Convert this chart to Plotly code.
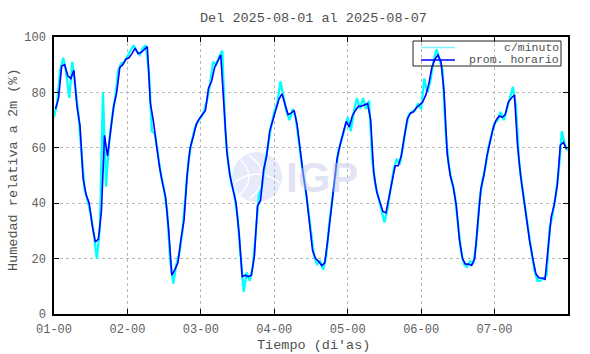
import plotly.graph_objects as go

# ---------------- data ----------------
day_labels = ["01-00", "02-00", "03-00", "04-00", "05-00", "06-00", "07-00"]
day_ticks = [0, 1, 2, 3, 4, 5, 6]

# hourly mean relative humidity (%) - one value per hour, 7 days
prom_horario = [
    # day 1
    74, 78, 89.5, 90, 86, 85, 88, 75, 68, 49, 43, 40, 32, 26, 27, 37, 64.5, 57, 66, 75, 80, 89, 90, 92,
    # day 2
    92.5, 94, 96, 94, 94.5, 95.5, 96.5, 76, 69.5, 61, 53, 47, 42, 30, 14, 16, 18.5, 27, 34, 50, 60, 64, 68.5, 70.5,
    # day 3
    72, 73.5, 81.5, 84, 89, 91.5, 93.5, 76, 58.5, 50, 45, 40, 29, 13.5, 14, 13.5, 14, 21, 39, 41, 52, 57, 66, 70,
    # day 4
    74, 77.5, 79.5, 75.5, 72, 72.5, 73.5, 68, 58, 50, 43, 34, 23, 20, 19, 17.5, 18.5, 27, 37, 46, 56, 61, 65, 69.5,
    # day 5
    67.5, 71.5, 73.5, 75, 75, 75.5, 76, 70, 51, 44, 40, 37, 36.5, 42, 48, 53.5, 53.5, 57, 64, 70.5, 72.5, 73, 74.5, 75.5,
    # day 6
    76.5, 79, 83, 89, 92, 93.5, 91, 80, 58, 50, 46, 39, 27, 20, 18, 18, 17.5, 20, 32, 45, 50, 57, 62, 67,
    # day 7
    70, 71.5, 71, 72, 76.5, 78, 79, 61, 50, 42, 34, 26, 20, 14.5, 13, 13, 12.5, 25, 35, 39.5, 46.5, 61, 62, 59.5,
]

# per-minute readings, sampled at each hour boundary (visible excursions included)
c_minuto = [
    71, 76, 88, 92.5, 87, 78, 91, 82, 72, 58, 45, 41, 36, 29, 20, 31, 80, 46, 62, 71, 78, 88, 90.5, 91,
    93, 94.5, 97, 95, 93.5, 96, 97, 88, 66, 65, 57, 50, 45, 37, 19, 11, 18, 22, 30, 42, 56, 62, 67, 69.5,
    71, 73, 77, 83, 91, 90, 93, 95, 66, 54, 47, 43, 35, 21, 8, 15, 12, 17, 31, 43, 46, 55, 61, 68,
    73, 76, 84, 78, 73, 70, 74, 71, 62, 54, 47, 38, 28, 21, 18, 19, 16, 21, 33, 42, 51, 59, 63, 67,
    71, 66, 73, 78, 74, 78, 74, 77, 56, 47, 42, 38, 33, 38, 45, 52, 56, 54, 60, 67, 72, 73, 73.5, 76,
    74, 85, 80, 84, 91, 95.5, 92, 88, 66, 54, 48, 43, 33, 23, 18, 17, 19, 18, 25, 40, 48, 53, 60, 64,
    69, 70, 73, 70, 74, 79, 82, 75, 55, 46, 38, 30, 23, 16, 12, 12, 13, 14, 31, 36, 43, 52, 66, 61,
    59,
]

x_horario = [(h + 0.5) / 24 for h in range(len(prom_horario))]
x_minuto = [h / 24 for h in range(len(c_minuto))]

FONT = "Liberation Mono, Courier New, monospace"
TXT = "#505050"
TICK = "#5e5e5e"

fig = go.Figure()
fig.add_trace(go.Scatter(x=x_minuto, y=c_minuto, mode="lines",
                         line=dict(color="#00ffff", width=2.3),
                         name="c/minuto", showlegend=False, hoverinfo="skip"))
fig.add_trace(go.Scatter(x=x_horario, y=prom_horario, mode="lines",
                         line=dict(color="#0000ff", width=1.6),
                         name="prom. horario", showlegend=False))

# plot-area pixel helpers (plot area: x 54..568, y 37..314)
L, R, T, B = 54, 568, 37, 314
W, H = 590, 354
def px(x):
    return (x - L) / (R - L)
def py(y):
    return (B - y) / (B - T)

shapes = []
# watermark circle (IGP logo)
cx, cy, r = 257, 177, 25
shapes.append(dict(type="circle", xref="paper", yref="paper", layer="below",
                   x0=px(cx - r), x1=px(cx + r), y0=py(cy + r), y1=py(cy - r),
                   fillcolor="#e6eafa", line=dict(width=0)))
for dx in (-8, 6):
    shapes.append(dict(type="path", xref="paper", yref="paper", layer="below",
                       path=f"M {px(cx+dx-14)},{py(cy-22)} Q {px(cx+dx+14)},{py(cy)} {px(cx+dx-14)},{py(cy+22)}",
                       line=dict(color="white", width=1.5)))
shapes.append(dict(type="path", xref="paper", yref="paper", layer="below",
                   path=f"M {px(cx-23)},{py(cy+6)} Q {px(cx)},{py(cy-12)} {px(cx+23)},{py(cy+6)}",
                   line=dict(color="white", width=1.5)))

# legend box and samples
shapes.append(dict(type="rect", xref="paper", yref="paper",
                   x0=px(413), x1=px(561), y0=py(66), y1=py(41),
                   line=dict(color="#222222", width=1), fillcolor="rgba(0,0,0,0)"))
shapes.append(dict(type="line", xref="paper", yref="paper",
                   x0=px(421), x1=px(455), y0=py(47.5), y1=py(47.5),
                   line=dict(color="#7ff5ff", width=1.3)))
shapes.append(dict(type="line", xref="paper", yref="paper",
                   x0=px(421), x1=px(455), y0=py(60), y1=py(60),
                   line=dict(color="#0000ff", width=1.5)))

annotations = [
    dict(text="<b>IGP</b>", xref="paper", yref="paper", x=px(322), y=py(177),
         xanchor="center", yanchor="middle", showarrow=False,
         font=dict(family="Liberation Sans, Arial", size=42, color="rgba(200,200,238,0.5)")),
    dict(text="c/minuto", xref="paper", yref="paper", x=px(560), y=py(47.5),
         xanchor="right", yanchor="middle", showarrow=False, borderpad=0,
         font=dict(family=FONT, size=11.5, color=TXT)),
    dict(text="prom. horario", xref="paper", yref="paper", x=px(560), y=py(60),
         xanchor="right", yanchor="middle", showarrow=False, borderpad=0,
         font=dict(family=FONT, size=11.5, color=TXT)),
    # axis titles placed as text
    dict(text="Tiempo (di'as)", xref="paper", yref="paper", x=px(313), y=py(345),
         xanchor="center", yanchor="middle", showarrow=False,
         font=dict(family=FONT, size=13.5, color=TXT)),
    dict(text="Humedad relativa a 2m (%)", xref="paper", yref="paper", x=px(13), y=py(170),
         xanchor="center", yanchor="middle", showarrow=False, textangle=-90,
         font=dict(family=FONT, size=13.5, color=TXT)),
    dict(text="Del 2025-08-01 al 2025-08-07", xref="paper", yref="paper", x=px(313), y=py(19),
         xanchor="center", yanchor="middle", showarrow=False,
         font=dict(family=FONT, size=13.5, color=TXT)),
]

fig.update_layout(
    width=W, height=H,
    margin=dict(l=L, r=W - R, t=T, b=H - B, autoexpand=False),
    paper_bgcolor="white", plot_bgcolor="white",
    shapes=shapes, annotations=annotations,
    showlegend=False,
)
fig.update_xaxes(range=[0, 7], tickvals=day_ticks, ticktext=day_labels,
                 showline=True, linecolor="black", linewidth=1.5, mirror="ticks",
                 ticks="inside", ticklen=5, tickcolor="black", tickwidth=1,
                 showgrid=True, gridcolor="#b8b8b8", griddash="dot", gridwidth=1,
                 zeroline=False, automargin=False, ticklabelstandoff=3,
                 tickfont=dict(family=FONT, size=12, color=TICK))
fig.update_yaxes(range=[0, 100], tickvals=[0, 20, 40, 60, 80, 100],
                 showline=True, linecolor="black", linewidth=1.5, mirror="ticks",
                 ticks="inside", ticklen=5, tickcolor="black", tickwidth=1,
                 showgrid=True, gridcolor="#b8b8b8", griddash="dot", gridwidth=1,
                 zeroline=False, automargin=False, ticklabelstandoff=4,
                 tickfont=dict(family=FONT, size=12, color=TICK))

fig.write_html("out.html",
               config={"displayModeBar": False},
               post_script="document.body.style.margin='0px';document.body.style.overflow='hidden';")
